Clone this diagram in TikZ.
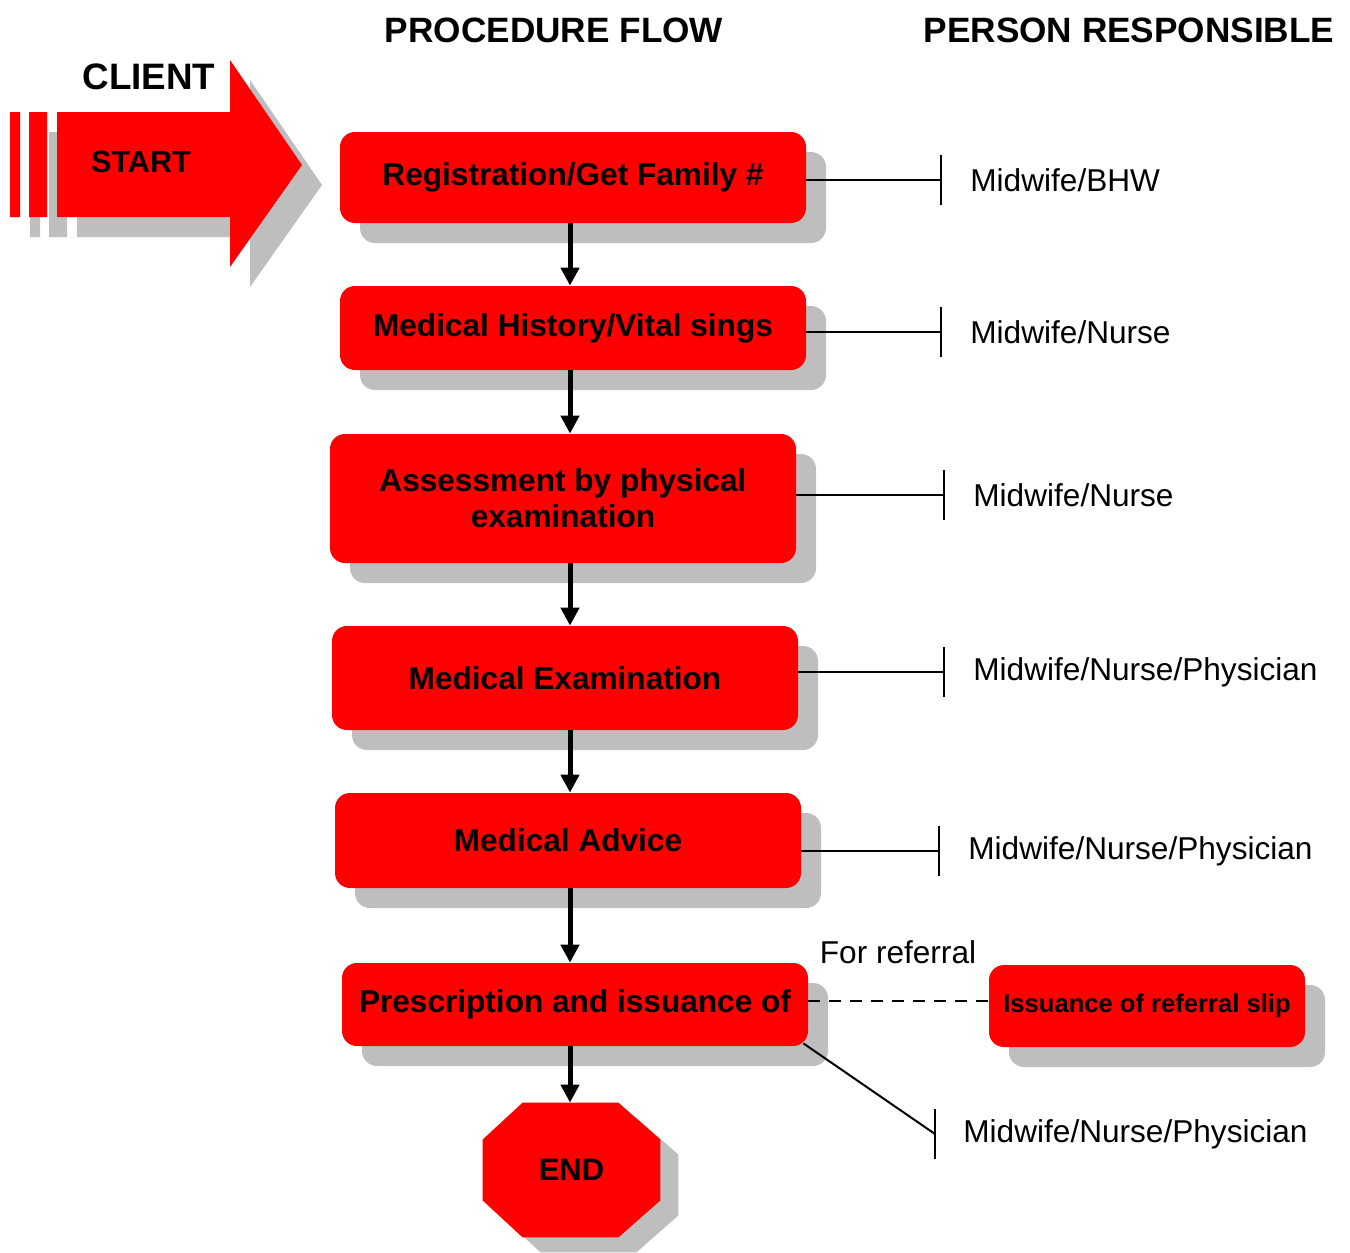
\documentclass[tikz,border=0pt]{standalone}
\usepackage{fontspec}
\setmainfont{Liberation Sans}
\usetikzlibrary{arrows.meta,shadows,calc}
\definecolor{boxred}{RGB}{255,0,0}
\definecolor{shadowgray}{RGB}{190,190,190}
\begin{document}
\begin{tikzpicture}[x=0.5pt,y=-0.5pt,
  stepbox/.style={draw=none,fill=boxred,rounded corners=7.5pt,minimum width=233pt,
    align=center,font=\bfseries\fontsize{15.8}{18}\selectfont,
    drop shadow={shadow xshift=10pt,shadow yshift=-10pt,fill=shadowgray,opacity=1}},
  who/.style={anchor=west,inner xsep=14pt,font=\fontsize{15.8}{19}\selectfont},
  head/.style={font=\bfseries\fontsize{17.6}{20}\selectfont},
  flow/.style={line width=2.5pt,-{Triangle[length=9pt,width=9pt]}},
  link/.style={line width=1pt,-{Bar[width=25pt,line width=1pt]}}]
\useasboundingbox (0,0) rectangle (1350,1253);

% column headings
\node[head] (hflow) at (554,30) {PROCEDURE FLOW};
\node[head] (hwho) at (1129,30) {PERSON RESPONSIBLE};

% start arrow with its shadow
\fill[shadowgray] (30,132) rectangle (40,237) (49,132) rectangle (67,237)
  (77,132) -- (250,132) -- (250,80) -- (322,185) -- (250,287) -- (250,237) -- (77,237) -- cycle;
\fill[boxred] (10,112) rectangle (20,217) (29,112) rectangle (47,217)
  (57,112) -- (230,112) -- (230,60) -- (302,165) -- (230,267) -- (230,217) -- (57,217) -- cycle;
\node[head,font=\bfseries\fontsize{18.4}{20}\selectfont] (client) at (149,77) {CLIENT};
\node[font=\bfseries\fontsize{15.3}{18}\selectfont] (start) at (141,162) {START};

% procedure steps
\node[stepbox,minimum height=45.5pt] (b1) at (573,177.5) {Registration/Get Family \#};
\node[stepbox,minimum height=42pt] (b2) at (573,328) {Medical History/Vital sings};
\node[stepbox,minimum height=64.5pt] (b3) at (563,498.5) {Assessment by physical\\examination};
\node[stepbox,minimum height=52pt] (b4) at (565,678) {Medical Examination};
\node[stepbox,minimum height=47.5pt] (b5) at (568,840.5) {Medical Advice};
\node[stepbox,minimum height=41.5pt] (b6) at (575,1004.5) {Prescription and issuance of};
\node[stepbox,minimum width=158pt,minimum height=41pt,font=\bfseries\fontsize{12.8}{15}\selectfont]
  (b7) at (1147,1006) {Issuance of referral slip};

% end octagon
\node[minimum width=88.5pt,minimum height=67pt,inner sep=0pt] (end) at (571.5,1170) {};
\begin{scope}[transform canvas={shift={(9pt,-7.5pt)}}]
\fill[shadowgray] ([xshift=20pt]end.north west) -- ([xshift=-21pt]end.north east)
  -- ([yshift=-18.5pt]end.north east) -- ([yshift=18.5pt]end.south east)
  -- ([xshift=-21pt]end.south east) -- ([xshift=20pt]end.south west)
  -- ([yshift=18.5pt]end.south west) -- ([yshift=-18.5pt]end.north west) -- cycle;
\end{scope}
\fill[boxred] ([xshift=20pt]end.north west) -- ([xshift=-21pt]end.north east)
  -- ([yshift=-18.5pt]end.north east) -- ([yshift=18.5pt]end.south east)
  -- ([xshift=-21pt]end.south east) -- ([xshift=20pt]end.south west)
  -- ([yshift=18.5pt]end.south west) -- ([yshift=-18.5pt]end.north west) -- cycle;
\node[font=\bfseries\fontsize{15.5}{18}\selectfont] at (end) {END};

% flow arrows
\coordinate (spine) at (570,0);
\draw[flow] (spine |- b1.south) -- (spine |- b2.north);
\draw[flow] (spine |- b2.south) -- (spine |- b3.north);
\draw[flow] (spine |- b3.south) -- (spine |- b4.north);
\draw[flow] (spine |- b4.south) -- (spine |- b5.north);
\draw[flow] (spine |- b5.south) -- (spine |- b6.north);
\draw[flow] (spine |- b6.south) -- (spine |- end.north);

% persons responsible
\node[who] (p1) at (942,180) {Midwife/BHW};
\node[who] (p2) at (942,332) {Midwife/Nurse};
\node[who] (p3) at (945,495) {Midwife/Nurse};
\node[who] (p4) at (945,672) {Midwife/Nurse/Physician};
\node[who] (p5) at (940,851) {Midwife/Nurse/Physician};
\node[who] (p6) at (935,1134) {Midwife/Nurse/Physician};
\draw[link] ([yshift=-1.25pt]b1.east) -- ([yshift=-1.25pt]b1.east -| p1.west);
\draw[link] ([yshift=-2pt]b2.east) -- ([yshift=-2pt]b2.east -| p2.west);
\draw[link] ([yshift=1.75pt]b3.east) -- ([yshift=1.75pt]b3.east -| p3.west);
\draw[link] ([yshift=3pt]b4.east) -- ([yshift=3pt]b4.east -| p4.west);
\draw[link] ([yshift=-5pt]b5.east) -- ([yshift=-5pt]b5.east -| p5.west);
\draw[line width=1pt] ([xshift=-2.5pt,yshift=1.5pt]b6.south east) -- (p6.west);
\draw[line width=1pt] ([yshift=12.5pt]p6.west) -- ([yshift=-12.5pt]p6.west);

% referral branch
\node[font=\fontsize{15.8}{19}\selectfont] (ref) at (898,952) {For referral};
\draw[line width=1pt,dash pattern=on 6pt off 4.5pt] ([yshift=2pt]b6.east) -- ([yshift=2pt]b6.east -| b7.west);
\end{tikzpicture}
\end{document}
